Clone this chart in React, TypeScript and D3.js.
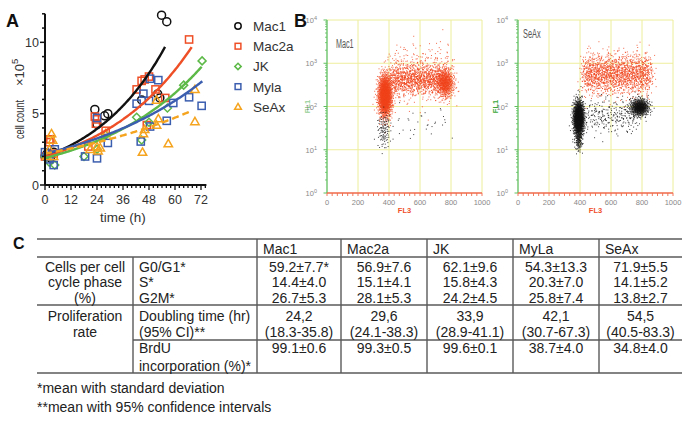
import React from 'react';
import * as d3 from 'd3';

const FONT = '"Liberation Sans", Arial, Helvetica, sans-serif';

// ---------------- Panel A data ----------------
const seriesNames = ['Mac1', 'Mac2a', 'JK', 'Myla', 'SeAx'];
const seriesColors = ['#111111', '#ef4f26', '#5cb947', '#3c5eaf', '#f5a41f'];
const seriesShapes = ['circle', 'square', 'diamond', 'square', 'triangle'];

const mac1Points: [number, number][] = [
  [0, 2.0], [1, 2.2], [2.5, 1.9], [4, 2.3], [23, 5.3], [24, 4.25], [27.5, 4.85], [29, 5.0],
  [44.6, 5.96], [52, 6.38], [53, 6.1], [53.8, 11.9], [56.2, 11.45],
];
const mac2aPoints: [number, number][] = [
  [0, 2.0], [2, 3.0], [2.5, 3.2], [4, 2.2], [20, 2.7], [23, 4.8], [23.5, 4.3], [24, 4.6], [28, 3.8],
  [42.3, 6.7], [44.6, 7.3], [46, 7.4], [48, 7.6], [47, 4.2], [51, 6.7], [55.5, 6.1], [66.5, 10.2],
];
const jkPoints: [number, number][] = [
  [0, 2.0], [2, 1.6], [4.5, 1.4], [18, 2.0], [24, 2.5], [28, 3.5], [42.3, 4.75], [44.6, 3.15],
  [48, 4.4], [56.5, 5.4], [64, 7.0], [72.5, 8.7],
];
const mylaPoints: [number, number][] = [
  [0, 2.3], [1, 2.0], [2, 1.8], [4, 1.4], [4.5, 2.5], [18.5, 2.0], [24, 1.87], [24, 4.7], [29, 2.95],
  [42.3, 5.7], [44.2, 3.05], [45.4, 6.4], [48, 5.9], [48.5, 7.45], [48.5, 4.1], [52.3, 7.35],
  [56.2, 4.5], [59.2, 5.75], [66.5, 6.15], [72.3, 5.55],
];
const seaxPoints: [number, number][] = [
  [0.8, 2.0], [2, 2.5], [3, 3.6], [3.5, 3.15], [4, 2.0], [20.8, 2.5], [24, 2.7], [24.5, 2.4],
  [25.5, 2.6], [28, 3.6], [45, 2.3], [45.4, 3.6], [46, 3.9], [51.5, 4.2], [52.3, 4.65], [51.5, 5.95],
  [56.9, 2.9], [69.2, 4.45], [69.2, 6.7],
];
const seriesPoints = [mac1Points, mac2aPoints, jkPoints, mylaPoints, seaxPoints];

// exponential growth fits: start value, doubling time (h), last fitted hour
const fitStart = [1.98, 1.98, 1.89, 2.2, 2.2];
const fitDoubling = [24.2, 29.6, 33.9, 42.1, 54.5];
const fitEnd = [55.4, 67.7, 72.3, 72.6, 67.7];
const fitDashed = [false, false, false, false, true];

const xTicksA = [0, 12, 24, 36, 48, 60, 72];
const yTicksA = [0, 5, 10];

// ---------------- Panel B data ----------------
// clusters: [fl3Center, fl3Spread, log10FL1Center, logSpread, count, colour, xMode]
type Cluster = [number, number, number, number, number, string, 'g' | 'u'];
const RED = '#f0441c';
const BLK = '#111111';
const mac1Clusters: Cluster[] = [
  [610, 200, 2.75, 0.32, 420, RED, 'u'],
  [600, 180, 2.62, 0.17, 1100, RED, 'u'],
  [765, 28, 2.52, 0.16, 550, RED, 'g'],
  [375, 22, 2.25, 0.24, 1800, RED, 'g'],
  [368, 22, 1.45, 0.22, 110, BLK, 'g'],
  [620, 170, 1.62, 0.2, 30, BLK, 'u'],
];
const seaxClusters: Cluster[] = [
  [640, 215, 2.75, 0.23, 1700, RED, 'u'],
  [610, 160, 1.78, 0.2, 260, BLK, 'u'],
  [392, 17, 1.72, 0.2, 1500, BLK, 'g'],
  [392, 12, 1.2, 0.13, 110, BLK, 'g'],
  [785, 30, 1.98, 0.1, 650, BLK, 'g'],
];
const fl3Ticks = [0, 200, 400, 600, 800, 1000];
const fl1Decades = [0, 1, 2, 3, 4];

// ---------------- Panel C data ----------------
const tableCols = ['Mac1', 'Mac2a', 'JK', 'MyLa', 'SeAx'];
const g0g1Vals = ['59.2±7.7*', '56.9±7.6', '62.1±9.6', '54.3±13.3', '71.9±5.5'];
const sVals = ['14.4±4.0', '15.1±4.1', '15.8±4.3', '20.3±7.0', '14.1±5.2'];
const g2mVals = ['26.7±5.3', '28.1±5.3', '24.2±4.5', '25.8±7.4', '13.8±2.7'];
const doublingVals = ['24,2', '29,6', '33,9', '42,1', '54,5'];
const doublingCIVals = ['(18.3-35.8)', '(24.1-38.3)', '(28.9-41.1)', '(30.7-67.3)', '(40.5-83.3)'];
const brduVals = ['99.1±0.6', '99.3±0.5', '99.6±0.1', '38.7±4.0', '34.8±4.0'];
const footnotes = ['*mean with standard deviation', '**mean with 95% confidence intervals'];

// ---------------- helpers ----------------
function halton(i: number, b: number) {
  let f = 1, r = 0;
  while (i > 0) { f /= b; r += f * (i % b); i = Math.floor(i / b); }
  return r;
}

function Marker({ shape, x, y, color, s = 1 }: { shape: string; x: number; y: number; color: string; s?: number }) {
  const sw = 1.5;
  if (shape === 'circle') return <circle cx={x} cy={y} r={4 * s} fill="none" stroke={color} strokeWidth={sw} />;
  if (shape === 'square') return <rect x={x - 3.6 * s} y={y - 3.6 * s} width={7.2 * s} height={7.2 * s} fill="none" stroke={color} strokeWidth={sw} />;
  if (shape === 'diamond') {
    const d = 4 * s;
    return <polygon points={`${x},${y - d} ${x + d},${y} ${x},${y + d} ${x - d},${y}`} fill="none" stroke={color} strokeWidth={sw} />;
  }
  const h = 4.2 * s;
  return <polygon points={`${x},${y - h} ${x + h},${y + h * 0.75} ${x - h},${y + h * 0.75}`} fill="none" stroke={color} strokeWidth={sw} strokeLinejoin="miter" />;
}

function PanelA() {
  const x = d3.scaleLinear().domain([0, 72]).range([45, 201]);
  const y = d3.scaleLinear().domain([0, 12]).range([185, 13.8]);
  const xMinor = d3.range(0, 75, 2);
  const yMinor = d3.range(0, 13, 1);
  return (
    <g fontFamily={FONT}>
      {seriesPoints.map((pts, si) =>
        pts.map((p, i) => (
          <Marker key={`${si}-${i}`} shape={seriesShapes[si]} x={x(p[0])} y={y(p[1])} color={seriesColors[si]} />
        ))
      )}
      {seriesNames.map((n, si) => {
        const ts = d3.range(0, fitEnd[si], 0.5).concat([fitEnd[si]]);
        const line = d3.line<number>().x(t => x(t)).y(t => y(fitStart[si] * Math.pow(2, t / fitDoubling[si])));
        return (
          <path key={n} d={line(ts) || ''} fill="none" stroke={seriesColors[si]} strokeWidth={2.4}
            strokeDasharray={fitDashed[si] ? '7,4' : undefined} />
        );
      })}
      <line x1={45} x2={45} y1={y(12)} y2={185} stroke="#111" strokeWidth={2} />
      <line x1={45} x2={x(74.5)} y1={185} y2={185} stroke="#111" strokeWidth={2} />
      {yMinor.map(v => (
        <line key={'ym' + v} x1={yTicksA.includes(v) ? 40 : 42} x2={45} y1={y(v)} y2={y(v)} stroke="#111" strokeWidth={1.5} />
      ))}
      {xMinor.map(v => (
        <line key={'xm' + v} x1={x(v)} x2={x(v)} y1={185} y2={xTicksA.includes(v) ? 190 : 188} stroke="#111" strokeWidth={1.3} />
      ))}
      {yTicksA.map(v => (
        <text key={'yl' + v} x={39} y={y(v) + 4.5} textAnchor="end" fontSize={12.5} fill="#333">{v}</text>
      ))}
      {xTicksA.map(v => (
        <text key={'xl' + v} x={x(v)} y={204} textAnchor="middle" fontSize={12.5} fill="#333">{v}</text>
      ))}
      <text x={123} y={222} textAnchor="middle" fontSize={13.5} fill="#333">time (h)</text>
      <g transform="translate(24,139) rotate(-90)">
        <text x={0} y={0} fontSize={13} fill="#333" textLength={39} lengthAdjust="spacingAndGlyphs">cell count</text>
        <text x={53} y={0} fontSize={13} fill="#333">×10<tspan dy={-6} fontSize={9.5}>5</tspan></text>
      </g>
      <text x={6} y={27} fontSize={18} fontWeight="bold" fill="#111">A</text>
      {seriesNames.map((n, si) => (
        <g key={'lg' + n}>
          <Marker shape={seriesShapes[si]} x={238} y={26 + si * 20.2} color={seriesColors[si]} s={0.8} />
          <text x={253} y={26 + si * 20.2 + 5} fontSize={13.5} fill="#333">{n}</text>
        </g>
      ))}
    </g>
  );
}

function FlowPlot({ x0, x1, yTop, yBot, clusters, title, titleX, titleY, fl1X, fl1Faded }: {
  x0: number; x1: number; yTop: number; yBot: number; clusters: Cluster[]; title: string;
  titleX: number; titleY: number; fl1X: number; fl1Faded?: boolean;
}) {
  const x = d3.scaleLinear().domain([0, 1000]).range([x0, x1]);
  const y = d3.scaleLinear().domain([0, 4]).range([yBot, yTop]);
  const dots: { cx: number; cy: number; c: string }[] = [];
  let base = 1;
  clusters.forEach(([cx, sx, cy, sy, n, col, mode], ci) => {
    for (let i = 0; i < n; i++) {
      const k = base + i;
      const u1 = Math.max(1e-6, halton(k, 2));
      const u2 = halton(k, 3);
      const r = Math.sqrt(-2 * Math.log(u1));
      const z1 = r * Math.cos(2 * Math.PI * u2);
      const z2 = r * Math.sin(2 * Math.PI * u2);
      let fx: number;
      if (mode === 'u') fx = cx - sx + 2 * sx * halton(k, 5) + z1 * 18;
      else fx = cx + sx * z1;
      const fy = cy + sy * z2;
      if (fx < 0 || fx > 1000 || fy < 0 || fy > 4) continue;
      dots.push({ cx: x(fx), cy: y(fy), c: col });
    }
    base += n + 37 * (ci + 1);
  });
  const xMinor = d3.range(0, 1001, 1000 / 30);
  const yMinor: number[] = [];
  for (let d = 0; d < 4; d++) for (let m = 2; m < 10; m++) yMinor.push(d + Math.log10(m));
  const grid = '#eeee9c';
  return (
    <g fontFamily={FONT}>
      {fl3Ticks.slice(1).map(v => (
        <line key={'gx' + v} x1={x(v)} x2={x(v)} y1={y(4)} y2={y(0)} stroke={grid} strokeWidth={1} />
      ))}
      {fl1Decades.slice(1).map(v => (
        <line key={'gy' + v} x1={x(0)} x2={x(1000)} y1={y(v)} y2={y(v)} stroke={grid} strokeWidth={1} />
      ))}
      {dots.map((d, i) => (
        <rect key={i} x={d.cx - 0.5} y={d.cy - 0.5} width={1} height={1} fill={d.c} opacity={0.8} />
      ))}
      <line x1={x0} x2={x0} y1={y(4)} y2={y(0)} stroke="#5fbf5f" strokeWidth={1.3} />
      {fl1Decades.map(v => (
        <line key={'yt' + v} x1={x0 - 3.5} x2={x0} y1={y(v)} y2={y(v)} stroke="#5fbf5f" strokeWidth={1} />
      ))}
      {yMinor.map((v, i) => (
        <line key={'ymi' + i} x1={x0 - 2} x2={x0} y1={y(v)} y2={y(v)} stroke="#5fbf5f" strokeWidth={0.8} />
      ))}
      {fl1Decades.map(v => (
        <text key={'yl' + v} x={x0 - 10} y={y(v) + 3} textAnchor="end" fontSize={7.5} fill="#888">10<tspan dy={-3} fontSize={5.5}>{v}</tspan></text>
      ))}
      <line x1={x0} x2={x1} y1={yBot} y2={yBot} stroke="#f06a4a" strokeWidth={1.3} />
      {xMinor.map((v, i) => (
        <line key={'xt' + i} x1={x(v)} x2={x(v)} y1={yBot} y2={yBot + 3} stroke="#f06a4a" strokeWidth={0.9} />
      ))}
      {fl3Ticks.map(v => (
        <text key={'xl' + v} x={x(v)} y={yBot + 12} textAnchor="middle" fontSize={7.5} fill="#888">{v}</text>
      ))}
      <text x={(x0 + x1) / 2} y={yBot + 20} textAnchor="middle" fontSize={7.5} fontWeight="bold" fill="#f0502a">FL3</text>
      <text transform={`translate(${fl1X},${(yTop + yBot) / 2}) rotate(-90)`} textAnchor="middle" fontSize={7.5} fontWeight="bold"
        fill="#3aa83a" opacity={fl1Faded ? 0.55 : 1}>FL1</text>
      <text x={titleX} y={titleY} fontSize={12} fill="#555" textLength={title.length * 4.4} lengthAdjust="spacingAndGlyphs">{title}</text>
    </g>
  );
}

function PanelB() {
  return (
    <g>
      <text x={294} y={27} fontSize={18} fontWeight="bold" fill="#111" fontFamily={FONT}>B</text>
      <FlowPlot x0={327} x1={482} yTop={20} yBot={193} clusters={mac1Clusters} title="Mac1" titleX={336} titleY={48} fl1X={310} fl1Faded />
      <FlowPlot x0={518} x1={673} yTop={20} yBot={193} clusters={seaxClusters} title="SeAx" titleX={523} titleY={38} fl1X={498} />
    </g>
  );
}

function PanelC() {
  const colEdges = [257, 341, 427, 513, 599, 682];
  const center = (i: number) => (colEdges[i] + colEdges[i + 1]) / 2;
  const fs = 14;
  const txt = '#222';
  const lc = '#5a5a5a';
  const rowsY = [272, 287, 303, 321, 337, 353];
  const dataRows = [g0g1Vals, sVals, g2mVals, doublingVals, doublingCIVals, brduVals];
  const labels2 = ['G0/G1*', 'S*', 'G2M*', 'Doubling time (hr)', '(95% CI)**', 'BrdU'];
  return (
    <g fontFamily={FONT} fontSize={fs} fill={txt}>
      <text x={13} y={249} fontSize={16} fontWeight="bold" fill="#111">C</text>
      <line x1={37} x2={682} y1={239} y2={239} stroke={lc} strokeWidth={1.6} />
      <line x1={37} x2={682} y1={257} y2={257} stroke={lc} strokeWidth={1.4} />
      <line x1={37} x2={682} y1={305} y2={305} stroke={lc} strokeWidth={1.4} />
      <line x1={133} x2={682} y1={340} y2={340} stroke={lc} strokeWidth={1.4} />
      <line x1={37} x2={682} y1={373} y2={373} stroke={lc} strokeWidth={1.6} />
      <line x1={133} x2={133} y1={257} y2={373} stroke={lc} strokeWidth={1.4} />
      {colEdges.slice(0, 5).map(v => (
        <line key={'v' + v} x1={v} x2={v} y1={239} y2={373} stroke={lc} strokeWidth={1.4} />
      ))}
      {tableCols.map((c, i) => (
        <text key={'h' + c} x={colEdges[i] + 6} y={254} fill={txt}>{c}</text>
      ))}
      <text x={85} y={272} textAnchor="middle" fill={txt}>Cells per cell</text>
      <text x={85} y={287} textAnchor="middle" fill={txt}>cycle phase</text>
      <text x={85} y={303} textAnchor="middle" fill={txt}>(%)</text>
      <text x={85} y={321} textAnchor="middle" fill={txt}>Proliferation</text>
      <text x={85} y={337} textAnchor="middle" fill={txt}>rate</text>
      {labels2.map((l, i) => (
        <text key={'l2' + i} x={139} y={rowsY[i]} fill={txt}>{l}</text>
      ))}
      <text x={139} y={371} fill={txt}>incorporation (%)*</text>
      {dataRows.map((row, ri) =>
        row.map((v, ci) => (
          <text key={`d${ri}-${ci}`} x={center(ci)} y={rowsY[ri]} textAnchor="middle" fill={txt}>{v}</text>
        ))
      )}
      {footnotes.map((f, i) => (
        <text key={'f' + i} x={37} y={393 + i * 19} fill={txt}>{f}</text>
      ))}
    </g>
  );
}

export default function App() {
  return (
    <svg width={694} height={421} viewBox="0 0 694 421"
      style={{ position: 'absolute', left: 0, top: 0, background: '#fff' }}>
      <rect x={0} y={0} width={694} height={421} fill="#fff" />
      <PanelA />
      <PanelB />
      <PanelC />
    </svg>
  );
}
